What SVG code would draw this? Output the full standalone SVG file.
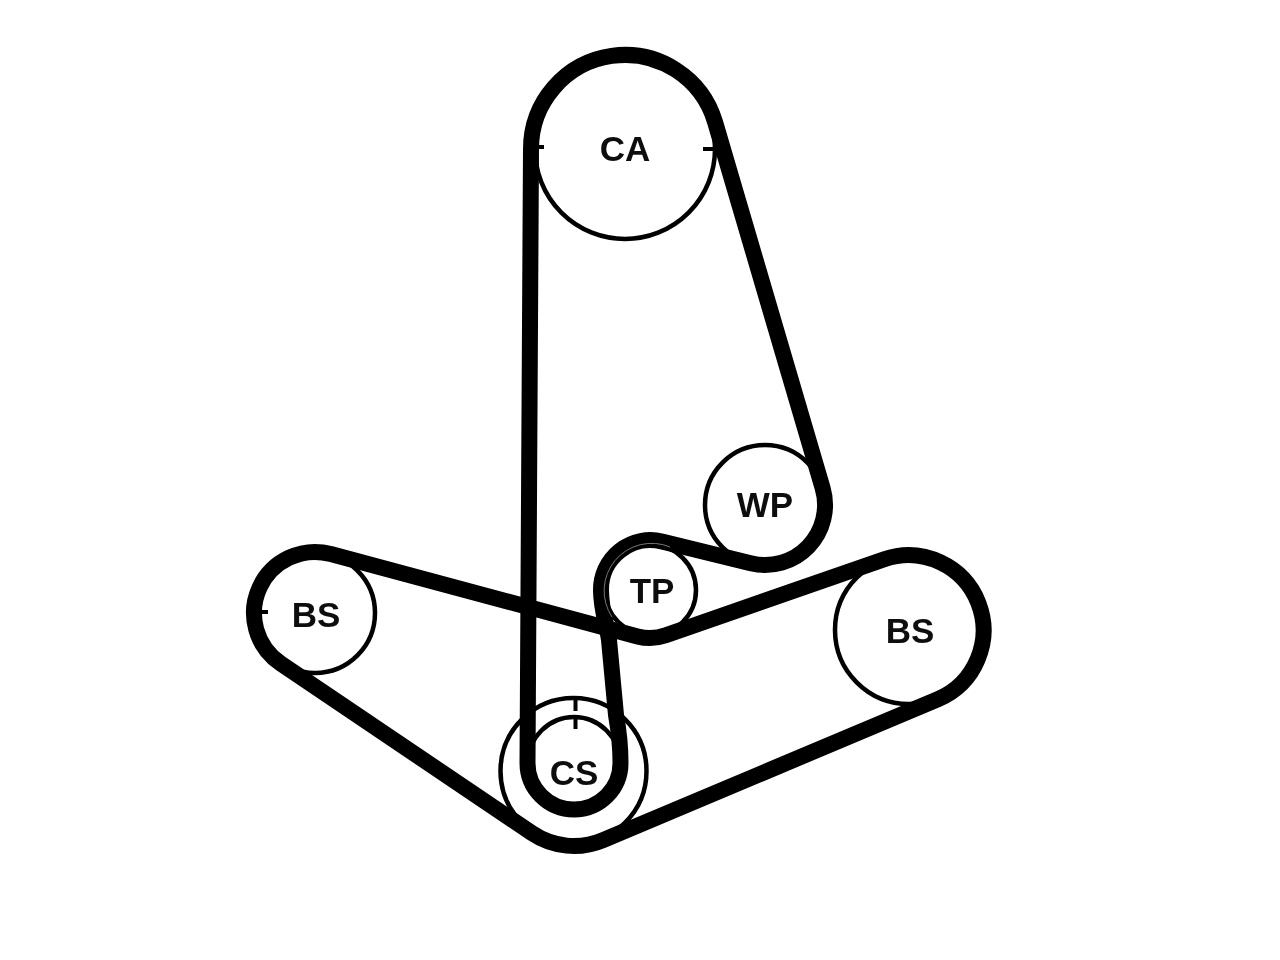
<svg xmlns="http://www.w3.org/2000/svg" width="1280" height="960" viewBox="0 0 1280 960">
<style>
.pulley{fill:#fff;stroke:#000;stroke-width:4.500}
.tick{stroke:#000;stroke-width:4;fill:none}
.belt{fill:none;stroke:#000;stroke-width:16;stroke-linejoin:round}
.label{font-family:"Liberation Sans",Arial,sans-serif;font-weight:700;font-size:35px;fill:#111;text-anchor:middle}
</style>
<defs><filter id="soft" filterUnits="userSpaceOnUse" x="0" y="0" width="1280" height="960"><feGaussianBlur stdDeviation="0.7"/></filter></defs>
<rect width="1280" height="960" fill="#fff"/>
<g filter="url(#soft)">
<g id="pulleys">
<g id="node-CA"><circle class="pulley" cx="625" cy="149" r="90"/><path class="tick" d="M531 147H544M703 149H716"/></g>
<g id="node-WP"><circle class="pulley" cx="765" cy="505" r="60"/></g>
<g id="node-TP"><circle class="pulley" cx="650.5" cy="590" r="45.5"/></g>
<g id="node-BS-left"><circle class="pulley" cx="315" cy="613" r="60"/><path class="tick" d="M255 612H268"/></g>
<g id="node-BS-right"><circle class="pulley" cx="909" cy="630" r="74"/></g>
<g id="node-CS"><circle class="pulley" cx="573.500" cy="771" r="73"/><circle class="pulley" cx="574" cy="763" r="46"/><path class="tick" d="M575.500 700V711M575.500 719V729"/></g>
</g>
<g id="connectors">
<path id="belt-timing" class="belt" d="M531 149A94 94 0 0 1 715.2 122.500L822.6 488.100A60 60 0 0 1 750.7 563.3L661.9 541.400A49.500 49.500 0 0 0 601 590C601 610 607 625 609 640L616 715Q620.500 740 620.500 763A46.500 46.500 0 0 1 527.500 763Z"/>
<path id="belt-accessory" class="belt" d="M330.8 554.100L637.6 636.400A48 48 0 0 0 665.8 635.3L884.3 559.2A75 75 0 0 1 938.100 699.100L603.100 840.100A75 75 0 0 1 532 833.2L280.900 663.6A61 61 0 0 1 330.8 554.100Z"/>
<path d="M612 617A47.500 47.500 0 0 1 670 547" fill="none" stroke="#777" stroke-width="1"/>
</g>
<g id="labels">
<text class="label" x="625" y="160.500">CA</text>
<text class="label" x="765" y="517">WP</text>
<text class="label" x="652" y="603">TP</text>
<text class="label" x="316" y="626.500">BS</text>
<text class="label" x="910" y="643">BS</text>
<text class="label" x="574" y="785">CS</text>
</g>
</g>
</svg>
